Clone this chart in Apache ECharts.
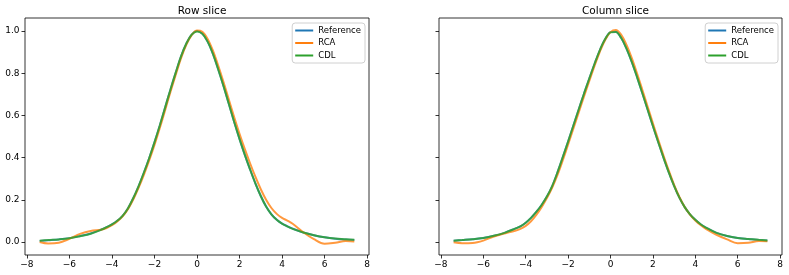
<!DOCTYPE html>
<html><head><meta charset="utf-8">
<script src="https://cdn.jsdelivr.net/npm/echarts@6/dist/echarts.min.js"></script>
<style>html,body{margin:0;padding:0;background:#fff}#c{width:789px;height:275px}</style>
</head><body><div id="c"></div>
<script>
const xs = [-7.4,-7.0,-6.5,-6.0,-5.5,-5.0,-4.5,-4.25,-4.0,-3.75,-3.5,-3.25,-3.0,-2.75,-2.5,-2.25,-2.0,-1.75,-1.5,-1.25,-1.0,-0.75,-0.5,-0.25,0,0.25,0.5,0.75,1.0,1.25,1.5,1.75,2.0,2.25,2.5,2.75,3.0,3.25,3.5,3.75,4.0,4.25,4.5,5.0,5.5,6.0,6.5,7.0,7.4];

const rowReference = [0.005,0.008,0.012,0.018,0.028,0.040,0.059,0.070,0.083,0.100,0.124,0.159,0.207,0.264,0.328,0.397,0.472,0.552,0.637,0.722,0.803,0.880,0.941,0.983,1.0,0.988,0.95,0.892,0.818,0.739,0.654,0.569,0.489,0.413,0.343,0.277,0.218,0.168,0.131,0.105,0.087,0.074,0.063,0.045,0.032,0.022,0.015,0.011,0.009];
const rowRCA       = [0.0,-0.007,-0.004,0.015,0.038,0.052,0.058,0.066,0.079,0.097,0.121,0.155,0.201,0.256,0.318,0.386,0.46,0.54,0.625,0.711,0.793,0.872,0.936,0.981,1.003,0.997,0.963,0.907,0.835,0.757,0.674,0.591,0.513,0.44,0.372,0.308,0.25,0.2,0.161,0.133,0.114,0.101,0.086,0.046,0.013,-0.009,-0.004,0.004,0.002];
const rowCDL       = [0.006,0.009,0.012,0.017,0.027,0.039,0.058,0.070,0.083,0.100,0.124,0.159,0.207,0.264,0.328,0.397,0.472,0.552,0.637,0.722,0.803,0.880,0.941,0.983,0.998,0.987,0.95,0.892,0.818,0.739,0.654,0.569,0.489,0.413,0.343,0.277,0.218,0.168,0.131,0.105,0.087,0.074,0.062,0.045,0.032,0.022,0.016,0.013,0.010];

const colReference = [0.006,0.009,0.013,0.019,0.029,0.043,0.063,0.074,0.091,0.114,0.142,0.175,0.215,0.265,0.33,0.402,0.476,0.552,0.628,0.703,0.775,0.845,0.91,0.962,0.995,0.997,0.968,0.918,0.855,0.783,0.706,0.628,0.55,0.474,0.40,0.33,0.266,0.21,0.165,0.131,0.105,0.084,0.068,0.043,0.028,0.019,0.014,0.009,0.007];
const colRCA       = [-0.002,-0.006,-0.005,0.006,0.026,0.040,0.053,0.062,0.076,0.098,0.128,0.165,0.208,0.258,0.318,0.388,0.462,0.538,0.614,0.69,0.763,0.836,0.903,0.958,0.995,1.005,0.983,0.935,0.873,0.80,0.722,0.642,0.563,0.485,0.41,0.338,0.271,0.213,0.166,0.13,0.102,0.08,0.062,0.034,0.012,-0.006,-0.004,0.004,0.003];
const colCDL       = [0.006,0.009,0.013,0.019,0.029,0.043,0.063,0.074,0.091,0.114,0.142,0.175,0.215,0.265,0.33,0.402,0.476,0.552,0.628,0.703,0.775,0.845,0.91,0.962,0.994,0.996,0.968,0.918,0.855,0.783,0.706,0.628,0.55,0.474,0.40,0.33,0.266,0.21,0.165,0.131,0.105,0.084,0.068,0.043,0.028,0.019,0.014,0.010,0.007];

const seriesNames = ['Reference','RCA','CDL'];
const colors = ['#1f77b4','#ff7f0e','#2ca02c'];
const titles = ['Row slice','Column slice'];
const xTicks = [-8,-6,-4,-2,0,2,4,6,8];
const yTicks = [0,0.2,0.4,0.6,0.8,1.0];

const panels = [[rowReference,rowRCA,rowCDL],[colReference,colRCA,colCDL]];
const grids = [{left:25,top:18,width:344,height:237},{left:439,top:18,width:343,height:237}];

const minus = s => String(s).replace('-', '\u2212');
const font = 'DejaVu Sans';

const option = {
  animation:false,
  backgroundColor:'#fff',
  title: titles.map((t,i)=>({text:t,left:grids[i].left+grids[i].width/2,top:1,textAlign:'center',
    textStyle:{fontSize:10.5,fontWeight:'normal',color:'#000',fontFamily:font}})),
  legend: grids.map((g,i)=>({
    data:seriesNames, orient:'vertical', right: 789-(g.left+g.width)+4, top:23,
    icon:'rect', itemWidth:18, itemHeight:2, itemGap:3.5,
    borderColor:'#d0d0d0', borderWidth:1, borderRadius:3, padding:[3,4,3,3],
    backgroundColor:'rgba(255,255,255,0.8)',
    textStyle:{fontSize:8.5,color:'#000',fontFamily:font}, selectedMode:false
  })),
  grid: grids.map(g=>Object.assign({show:true,borderColor:'#000',borderWidth:0.8,backgroundColor:'transparent'},g)),
  xAxis: grids.map((g,i)=>({type:'value',gridIndex:i,min:-8.09,max:8.09,
    axisLine:{show:false,onZero:false},splitLine:{show:false},
    axisTick:{show:true,inside:false,length:3.5,lineStyle:{color:'#000',width:0.8},customValues:xTicks},
    axisLabel:{show:true,fontSize:9,color:'#000',fontFamily:font,margin:5,customValues:xTicks,formatter:v=>minus(v)}})),
  yAxis: grids.map((g,i)=>({type:'value',gridIndex:i,min:-0.062,max:1.062,
    axisLine:{show:false,onZero:false},splitLine:{show:false},
    axisTick:{show:true,inside:false,length:3.5,lineStyle:{color:'#000',width:0.8},customValues:yTicks},
    axisLabel:{show:i===0,fontSize:9,color:'#000',fontFamily:font,margin:5.5,customValues:yTicks,formatter:v=>minus(v.toFixed(1))}})),
  series: []
};
panels.forEach((p,i)=>{
  p.forEach((arr,k)=>{
    option.series.push({name:seriesNames[k],type:'line',xAxisIndex:i,yAxisIndex:i,
      data: xs.map((x,j)=>[x,arr[j]]), smooth:0.35, symbol:'none',
      lineStyle:{color:colors[k],width:2,opacity:0.8}, itemStyle:{color:colors[k]}});
  });
});
const chart = echarts.init(document.getElementById('c'),null,{renderer:'canvas'});
chart.setOption(option);
</script></body></html>
